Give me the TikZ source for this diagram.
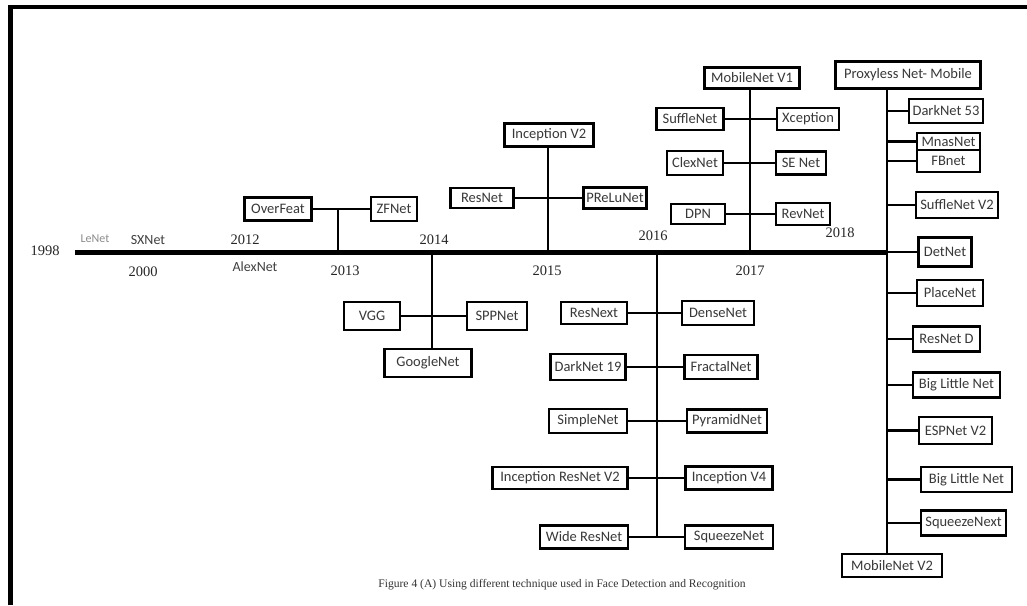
\documentclass[tikz,border=0pt]{standalone}
\usepackage{fontspec}
\setmainfont{Liberation Serif}
\newfontfamily\cbri{Carlito}
\begin{document}
\begin{tikzpicture}[x=1pt,y=-1pt,
  bx/.style={draw=black,line width=2.8pt,fill=white,inner sep=0pt,font=\cbri\fontsize{14.5}{16}\selectfont,text=black!78},
  cn/.style={line width=2.5pt,draw=black},
  tl/.style={line width=5pt,draw=black},
  yr/.style={inner sep=0pt,font=\fontsize{14.5}{16}\selectfont,text=black!85},
  sl/.style={inner sep=0pt,font=\cbri\fontsize{14}{16}\selectfont,text=black!75}]
\useasboundingbox (0,0) rectangle (1027,605);
\fill[white] (0,0) rectangle (1027,605);
% frame
\coordinate (fa) at (10.5,605);
\coordinate (fb) at (10.5,7);
\coordinate (fc) at (1027,7);
\draw[line width=4.5pt] (fa) -- (fb) -- (fc);

% timeline
\coordinate (tl0) at (75,252);
\coordinate (tl1) at (887,252);
\draw[tl] (tl0) -- (tl1);

% year and side labels
\node[yr] (y98) at (45,251) {1998};
\node[yr] (y00) at (143,272) {2000};
\node[yr] (y12) at (245,240) {2012};
\node[yr] (y13) at (345,271) {2013};
\node[yr] (y14) at (434,240) {2014};
\node[yr] (y15) at (547,271) {2015};
\node[yr] (y16) at (653,236) {2016};
\node[yr] (y17) at (750,271) {2017};
\node[yr] (y18) at (840,233) {2018};
\node[sl,text=black!45,font=\cbri\fontsize{12}{14}\selectfont] (lenet) at (95,239) {LeNet};
\node[sl] (sxnet) at (148,240) {SXNet};
\node[sl] (alex) at (255,267) {AlexNet};

% boxes
\node[bx,minimum width=67,minimum height=23] (ovf) at (278,209) {OverFeat};
\node[bx,minimum width=46,minimum height=24] (zf) at (394,209) {ZFNet};
\node[bx,minimum width=89,minimum height=23] (incv2) at (549,135) {Inception V2};
\node[bx,minimum width=63,minimum height=20] (resnet) at (482,198) {ResNet};
\node[bx,minimum width=63,minimum height=21] (prelu) at (615,198) {PReLuNet};
\node[bx,minimum width=56,minimum height=28] (vgg) at (372,316) {VGG};
\node[bx,minimum width=60,minimum height=28] (spp) at (497,316) {SPPNet};
\node[bx,minimum width=87,minimum height=28] (goog) at (428,363) {GoogleNet};
\node[bx,minimum width=66,minimum height=22] (resnext) at (594,313) {ResNext};
\node[bx,minimum width=72,minimum height=24] (dense) at (718,313) {DenseNet};
\node[bx,minimum width=75,minimum height=26] (dark19) at (588,367) {DarkNet 19};
\node[bx,minimum width=73,minimum height=24] (fractal) at (721,367) {FractalNet};
\node[bx,minimum width=78,minimum height=24] (simple) at (588,421) {SimpleNet};
\node[bx,minimum width=80,minimum height=23] (pyramid) at (727,421) {PyramidNet};
\node[bx,minimum width=135,minimum height=22] (incres) at (560,478) {Inception ResNet V2};
\node[bx,minimum width=87,minimum height=23] (incv4) at (729,478) {Inception V4};
\node[bx,minimum width=88,minimum height=23] (wide) at (584,537) {Wide ResNet};
\node[bx,minimum width=88,minimum height=23] (squeeze) at (729,537) {SqueezeNet};
\node[bx,minimum width=95,minimum height=21] (mv1) at (752,78) {MobileNet V1};
\node[bx,minimum width=67,minimum height=22] (suffle) at (690,119) {SuffleNet};
\node[bx,minimum width=62,minimum height=22] (xcep) at (808,119) {Xception};
\node[bx,minimum width=56,minimum height=24] (clex) at (695,163) {ClexNet};
\node[bx,minimum width=50,minimum height=23] (senet) at (801,163) {SE Net};
\node[bx,minimum width=54,minimum height=20] (dpn) at (698,214) {DPN};
\node[bx,minimum width=54,minimum height=22] (revnet) at (803,214) {RevNet};
\node[bx,minimum width=145,minimum height=27] (prox) at (908,75) {Proxyless Net- Mobile};
\node[bx,minimum width=74,minimum height=24] (dark53) at (946,111) {DarkNet 53};
\node[bx,minimum width=63,minimum height=17] (mnas) at (948.5,141.5) {MnasNet};
\node[bx,minimum width=63,minimum height=22] (fbnet) at (948.5,161) {FBnet};
\node[bx,minimum width=82,minimum height=26] (suffle2) at (957,205) {SuffleNet V2};
\node[bx,minimum width=53,minimum height=29] (detnet) at (945,252) {DetNet};
\node[bx,minimum width=66,minimum height=26] (place) at (950,293) {PlaceNet};
\node[bx,minimum width=67,minimum height=25] (resd) at (946.5,339) {ResNet D};
\node[bx,minimum width=87,minimum height=25] (big1) at (956.5,385) {Big Little Net};
\node[bx,minimum width=73,minimum height=27] (esp) at (955.5,430.5) {ESPNet V2};
\node[bx,minimum width=91,minimum height=25] (big2) at (966.5,479.5) {Big Little Net};
\node[bx,minimum width=85,minimum height=25] (sqnext) at (963.5,523) {SqueezeNext};
\node[bx,minimum width=100,minimum height=23] (mv2) at (892,565.5) {MobileNet V2};

% 2013 branch
\coordinate (v13) at (338,252);
\draw[cn] (ovf.east) -- (zf.west);
\draw[cn] (v13) -- (v13 |- ovf.east);
% 2014 branch
\coordinate (v14) at (432,252);
\draw[cn] (v14) -- (v14 |- goog.north);
\draw[cn] (vgg.east) -- (spp.west);
% 2015 branch
\coordinate (v15) at (548,252);
\draw[cn] (v15) -- (v15 |- incv2.south);
\draw[cn] (resnet.east) -- (prelu.west);
% 2016 branch
\coordinate (v16) at (657,252);
\draw[cn] (v16) -- (v16 |- wide.east);
\draw[cn] (resnext.east) -- (dense.west);
\draw[cn] (dark19.east) -- (fractal.west);
\draw[cn] (simple.east) -- (pyramid.west);
\draw[cn] (incres.east) -- (incv4.west);
\draw[cn] (wide.east) -- (squeeze.west);
% 2017 branch
\coordinate (v17) at (750,252);
\draw[cn] (v17) -- (v17 |- mv1.south);
\draw[cn] (suffle.east) -- (xcep.west);
\draw[cn] (clex.east) -- (senet.west);
\draw[cn] (dpn.east) -- (revnet.west);
% 2018 branch
\draw[cn] (tl1 |- prox.south) -- (tl1 |- mv2.north);
\draw[cn] (tl1) -- (detnet.west);
\foreach \n in {dark53,mnas,fbnet,suffle2,place,resd,big1,esp,big2,sqnext}{
  \draw[cn] (tl1 |- \n.west) -- (\n.west);
}

% caption
\node[inner sep=0pt,font=\fontsize{11.6}{13}\selectfont,text=black!80] (cap) at (562,585) {Figure 4 (A) Using different technique used in Face Detection and Recognition};
\end{tikzpicture}
\end{document}
